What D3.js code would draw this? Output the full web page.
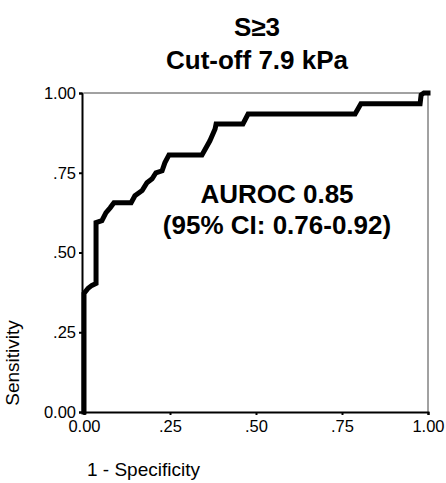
<!DOCTYPE html>
<html>
<head>
<meta charset="utf-8">
<script src="https://cdn.jsdelivr.net/npm/d3@7"></script>
<style>
  body { margin: 0; background: #fff; }
  svg text { font-family: "Liberation Sans", Arial, sans-serif; fill: #000; }
</style>
</head>
<body>
<div id="chart"></div>
<script>
// ROC curve points: 1 - specificity, sensitivity
const fpr  = [0, 0, 0.012, 0.023, 0.035, 0.035, 0.052, 0.064, 0.076, 0.087, 0.137, 0.148, 0.169, 0.183, 0.198, 0.209, 0.227, 0.235, 0.247, 0.343, 0.366, 0.381, 0.384, 0.462, 0.477, 0.788, 0.805, 0.977, 0.98, 0.988, 1]
const sens = [0, 0.372, 0.388, 0.397, 0.403, 0.594, 0.60, 0.625, 0.64, 0.656, 0.656, 0.678, 0.694, 0.719, 0.731, 0.75, 0.756, 0.781, 0.806, 0.806, 0.85, 0.887, 0.903, 0.903, 0.934, 0.934, 0.966, 0.966, 0.994, 1, 1]
const xTicks = [0, 0.25, 0.5, 0.75, 1]
const yTicks = [0, 0.25, 0.5, 0.75, 1]
const titleLines = ['S\u22653', 'Cut-off 7.9 kPa']
const noteLines = ['AUROC 0.85', '(95% CI: 0.76-0.92)']

const W = 446, H = 483
const fmt = d => d === 0 || d === 1 ? d3.format('.2f')(d) : d3.format('.2f')(d).replace(/^0/, '')

let svg = d3.select('#chart').append('svg').attr('width', W).attr('height', H)

const x = d3.scaleLinear().domain([0, 1]).range([84, 428])
const y = d3.scaleLinear().domain([0, 1]).range([412, 93])

// thin frame on top and right
svg.append('line').attr('x1', x(0)).attr('x2', x(1)).attr('y1', y(1)).attr('y2', y(1))
  .attr('stroke', '#444').attr('stroke-width', 1)
svg.append('line').attr('x1', x(1)).attr('x2', x(1)).attr('y1', y(1)).attr('y2', y(0))
  .attr('stroke', '#444').attr('stroke-width', 1)

let xAxis = svg.append('g').attr('transform', `translate(0,${y(0)})`)
  .call(d3.axisBottom(x).tickValues(xTicks).tickFormat(fmt).tickSize(3).tickPadding(5))
let yAxis = svg.append('g').attr('transform', `translate(${x(0) - 2},0)`)
  .call(d3.axisLeft(y).tickValues(yTicks).tickFormat(fmt).tickSize(3).tickPadding(3))

for (let ax of [xAxis, yAxis]) {
  ax.select('.domain').attr('stroke', '#000').attr('stroke-width', 2)
  ax.selectAll('.tick line').attr('stroke', '#000').attr('stroke-width', 2)
  ax.selectAll('.tick text').attr('font-size', 16.5).attr('fill', '#000')
    .attr('font-family', '"Liberation Sans", Arial, sans-serif')
}

const pts = fpr.map((f, i) => [f, sens[i]])
svg.append('path').datum(pts)
  .attr('d', d3.line().x(d => x(d[0])).y(d => y(d[1])))
  .attr('fill', 'none').attr('stroke', '#000').attr('stroke-width', 5)
  .attr('stroke-linejoin', 'miter').attr('stroke-linecap', 'square')

svg.selectAll('.title').data(titleLines).enter().append('text')
  .attr('class', 'title')
  .attr('x', 257).attr('y', (d, i) => 36 + i * 33)
  .attr('text-anchor', 'middle').attr('font-weight', 'bold').attr('font-size', 26)
  .text(d => d)

svg.selectAll('.note').data(noteLines).enter().append('text')
  .attr('class', 'note')
  .attr('x', 277).attr('y', (d, i) => 203 + i * 31)
  .attr('text-anchor', 'middle').attr('font-weight', 'bold').attr('font-size', 26)
  .text(d => d)

svg.append('text').attr('x', 87).attr('y', 476).attr('font-size', 19).text('1 - Specificity')
svg.append('text').attr('transform', 'translate(19,363) rotate(-90)')
  .attr('text-anchor', 'middle').attr('font-size', 19).text('Sensitivity')
</script>
</body>
</html>
